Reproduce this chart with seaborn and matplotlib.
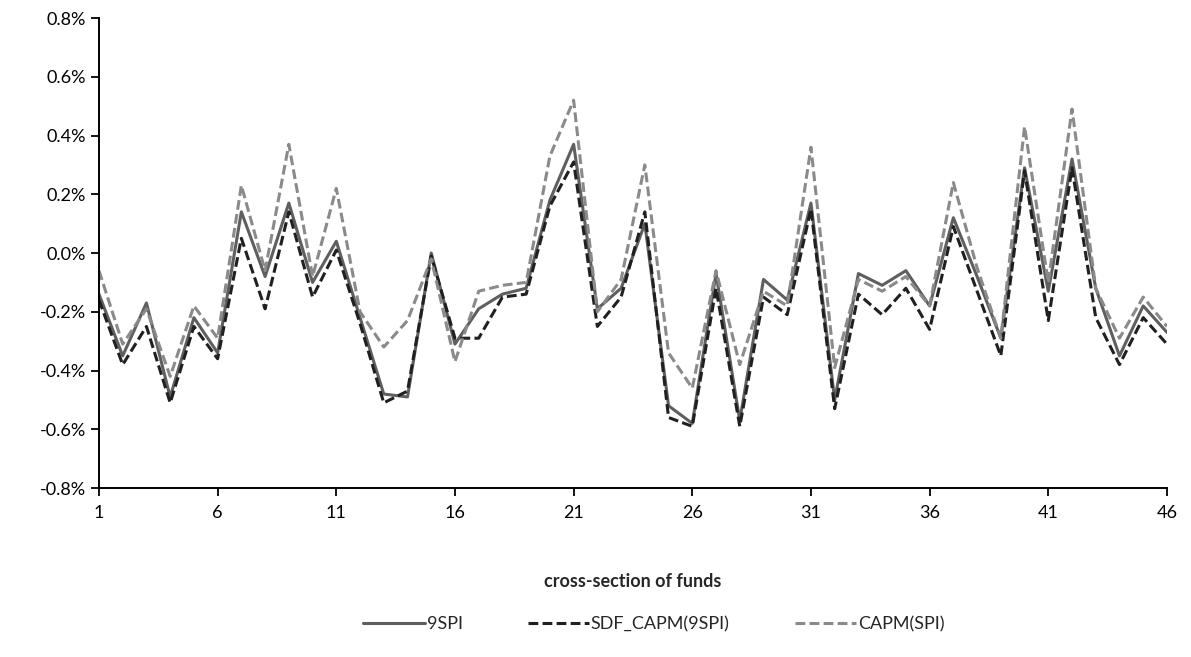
import numpy as np
import pandas as pd
import matplotlib
matplotlib.use("Agg")
import matplotlib.pyplot as plt
from matplotlib.ticker import FuncFormatter
import seaborn as sns

# Data (values in percent)
funds = list(range(1, 47))

spi9 = [-0.14, -0.35, -0.17, -0.49, -0.22, -0.34, 0.14, -0.08, 0.17, -0.10,
        0.04, -0.22, -0.48, -0.49, 0.00, -0.31, -0.19, -0.14, -0.12, 0.18,
        0.37, -0.19, -0.12, 0.10, -0.52, -0.58, -0.07, -0.57, -0.09, -0.16,
        0.17, -0.50, -0.07, -0.11, -0.06, -0.18, 0.12, -0.08, -0.29, 0.29,
        -0.13, 0.32, -0.12, -0.35, -0.18, -0.27]

sdf_capm = [-0.16, -0.38, -0.25, -0.51, -0.25, -0.36, 0.05, -0.19, 0.14, -0.15,
            0.01, -0.24, -0.51, -0.47, -0.01, -0.29, -0.29, -0.15, -0.14, 0.16,
            0.31, -0.25, -0.15, 0.14, -0.56, -0.59, -0.12, -0.59, -0.15, -0.21,
            0.15, -0.53, -0.14, -0.21, -0.12, -0.26, 0.09, -0.13, -0.35, 0.28,
            -0.23, 0.29, -0.22, -0.38, -0.22, -0.31]

capm_spi = [-0.06, -0.31, -0.19, -0.42, -0.18, -0.29, 0.23, -0.06, 0.37, -0.08,
            0.22, -0.20, -0.32, -0.23, -0.02, -0.37, -0.13, -0.11, -0.10, 0.33,
            0.52, -0.20, -0.09, 0.30, -0.34, -0.46, -0.06, -0.38, -0.13, -0.18,
            0.36, -0.39, -0.09, -0.13, -0.08, -0.18, 0.24, -0.05, -0.29, 0.43,
            -0.10, 0.49, -0.12, -0.29, -0.15, -0.25]

series_names = ["9SPI", "SDF_CAPM(9SPI)", "CAPM(SPI)"]
x_ticks = [1, 6, 11, 16, 21, 26, 31, 36, 41, 46]
y_ticks = [-0.8, -0.6, -0.4, -0.2, 0.0, 0.2, 0.4, 0.6, 0.8]


def main():
    sns.set_theme(style="white")
    plt.rcParams['font.family'] = ['Lato', 'DejaVu Sans']

    df = pd.DataFrame({"fund": funds, series_names[0]: spi9,
                       series_names[1]: sdf_capm, series_names[2]: capm_spi})

    fig = plt.figure(figsize=(11.91, 6.57), dpi=100)
    ax = fig.add_axes([0.0831, 0.2572, 0.8967, 0.7154])

    # colour, dash pattern (None = solid)
    styles = [("#5f5f5f", None),
              ("#202020", (3.2, 1.4)),
              ("#8a8a8a", (3.2, 1.4))]
    for name, (color, dashes) in zip(series_names, styles):
        sns.lineplot(data=df, x="fund", y=name, ax=ax, color=color,
                     linewidth=2.2, label=name)
        if dashes:
            ax.lines[-1].set_dashes(dashes)

    ax.set_xlim(1, 46)
    ax.set_ylim(-0.8, 0.8)
    ax.set_xticks(x_ticks)
    ax.set_yticks(y_ticks)
    ax.yaxis.set_major_formatter(FuncFormatter(lambda v, p: f"{v:.1f}%".replace("-0.0%", "0.0%")))
    ax.tick_params(axis="both", labelsize=13, colors="black", direction="out",
                   length=6, width=1.3, bottom=True, left=True)
    ax.tick_params(axis="x", pad=6)

    for side in ["top", "right"]:
        ax.spines[side].set_visible(False)
    for side in ["left", "bottom"]:
        ax.spines[side].set_color("black")
        ax.spines[side].set_linewidth(1.4)

    ax.set_ylabel("")
    ax.set_xlabel("cross-section of funds", fontsize=13, fontweight="bold")
    ax.xaxis.set_label_coords(0.5, -0.18)

    ax.legend_.remove()
    handles, labels = ax.get_legend_handles_labels()
    fig.legend(handles, labels, loc="center", bbox_to_anchor=(0.549, 0.05),
               ncol=3, frameon=False, fontsize=13, handlelength=3.4,
               handletextpad=0.1, columnspacing=3.6)

    fig.savefig("out.png", dpi=100)


if __name__ == "__main__":
    main()
